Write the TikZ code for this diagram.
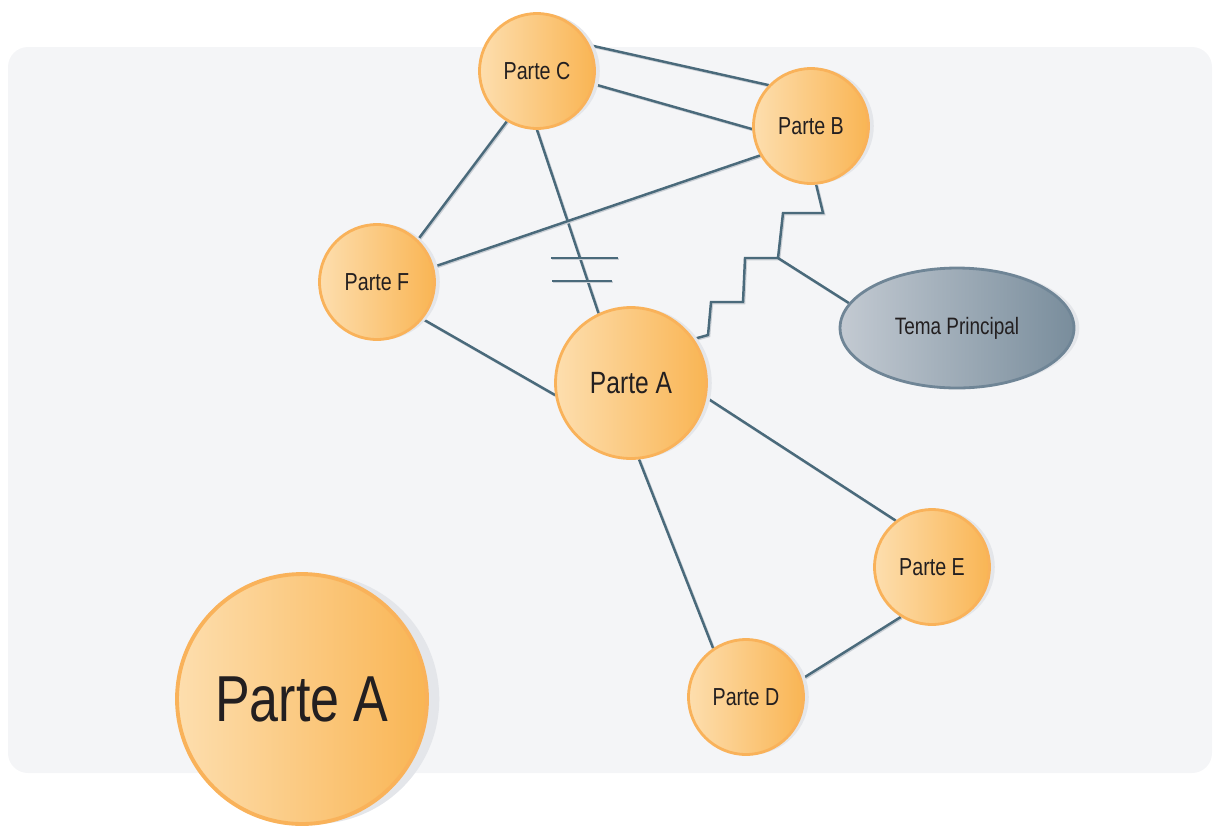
\documentclass[tikz,border=0pt]{standalone}
\usepackage{fontspec}
\setmainfont{Liberation Sans}[FakeStretch=0.8]
\usetikzlibrary{shapes.geometric,backgrounds,shadows}
\definecolor{panel}{HTML}{F4F5F7}
\definecolor{link}{HTML}{4A6A7B}
\definecolor{linkshade}{HTML}{C9CED4}
\definecolor{peachlight}{HTML}{FDDEAE}
\definecolor{peachdark}{HTML}{F9B554}
\definecolor{peachrim}{HTML}{F9B25A}
\definecolor{shadowgray}{HTML}{E4E6EA}
\definecolor{slatelight}{HTML}{C3CAD2}
\definecolor{slatedark}{HTML}{798D9C}
\definecolor{slaterim}{HTML}{6F8596}
\definecolor{ink}{HTML}{231F20}

\tikzset{
  part/.style={circle, draw=peachrim, line width=1.6pt, left color=peachlight, right color=peachdark,
    text=ink, inner sep=0pt, minimum size=2.3cm, font=\fontsize{14}{16}\selectfont,
    general shadow={fill=shadowgray, shadow xshift=3pt, shadow yshift=0pt}},
  bigpart/.style={part, minimum size=3.02cm, font=\fontsize{17.5}{20}\selectfont},
  hugepart/.style={part, line width=2.2pt, minimum size=5cm, font=\fontsize{37}{40}\selectfont,
    general shadow={fill=shadowgray, shadow xshift=7pt, shadow yshift=0pt}},
  topic/.style={ellipse, draw=slaterim, line width=1.6pt, left color=slatelight, right color=slatedark,
    text=ink, inner sep=0pt, minimum width=4.68cm, minimum height=2.4cm, font=\fontsize{13.5}{15}\selectfont,
    general shadow={fill=shadowgray, shadow xshift=3pt, shadow yshift=0pt}},
  link/.style={draw=link, line width=1.4pt,
    preaction={draw=linkshade, line width=1.4pt, transform canvas={xshift=0.6pt, yshift=-0.6pt}}}
}

\begin{document}
\begin{tikzpicture}[x=0.02cm, y=-0.02cm]
  \useasboundingbox (0,0) rectangle (1213,826);
  \clip (0,0) rectangle (1213,826);

  % parts
  \node[part] (C) at (537,71) {Parte C};
  \node[part] (B) at (811,126) {Parte B};
  \node[part] (F) at (377,282) {Parte F};
  \node[bigpart] (A) at (631,383) {Parte A};
  \node[part] (E) at (932,567) {Parte E};
  \node[part] (D) at (746,697) {Parte D};
  \node[topic] (tema) at (957,328) {Tema Principal};

  % legend circle
  \node[hugepart] (legend) at (302,699) {Parte A};

  \begin{pgfonlayer}{background}
    % panel
    \fill[panel, rounded corners=0.4cm] (8,47) rectangle (1212,773);

    % links
    \draw[link] (C.26) -- (B.136);
    \draw[link] (C.-13) -- (B.183);
    \draw[link] (C.239) -- (F.46);
    \draw[link] (C.south) -- (A.115);
    \draw[link] (F.15) -- (B.210);
    \draw[link] (F.-39) -- (A.189);
    \draw[link] (A.-11) -- (E.128);
    \draw[link] (A.-84) -- (D.124);
    \draw[link] (D.18) -- (E.238);

    % broken link
    \draw[link] (551,258) -- (618,258);
    \draw[link] (552,281) -- (612,281);

    % conflict zigzag
    \coordinate (fork) at (778,258);
    \draw[link] (B.-85) -- (823,213) -- (783,213) -- (fork) -- (745,258) -- (743,302)
      -- (711,302) -- (708,335) -- (A.35);
    \draw[link] (fork) -- (tema.167);
  \end{pgfonlayer}
\end{tikzpicture}
\end{document}
